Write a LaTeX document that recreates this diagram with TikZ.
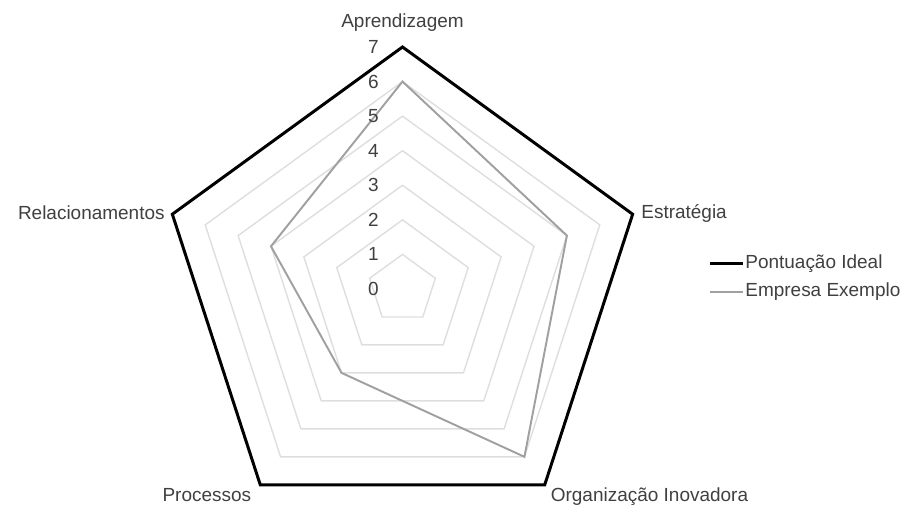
\documentclass[tikz,border=0pt]{standalone}
\usepackage{fontspec}
\setmainfont{Liberation Sans}
\usepackage{xcolor}
\usetikzlibrary{positioning,calc}

\definecolor{gridgray}{RGB}{222,222,222}
\definecolor{seriesgray}{RGB}{160,160,160}

\begin{document}
\begin{tikzpicture}[
    lbl/.style={font=\fontsize{10.8}{13}\selectfont, text=black!75, inner sep=0pt},
    tick/.style={font=\fontsize{10.8}{13}\selectfont, text=black!75, inner sep=0pt, anchor=east},
    grid/.style={gridgray, line width=0.8pt, line join=miter},
    ideal/.style={black, line width=1.7pt, line join=miter},
    empresa/.style={seriesgray, line width=1.1pt, line join=miter},
]
\useasboundingbox (-8.05,-4.36) rectangle (10.05,5.78);
\def\lev{0.6914}

% Gridlines (levels 1 to 6)
\foreach \k in {1,...,6}
  \draw[grid] (90:\k*\lev) -- (18:\k*\lev) -- (-54:\k*\lev) -- (-126:\k*\lev) -- (162:\k*\lev) -- cycle;

% Ideal score (7 on every axis)
\coordinate (ia) at (90:7*\lev);
\coordinate (ie) at (18:7*\lev);
\coordinate (io) at (-54:7*\lev);
\coordinate (ip) at (-126:7*\lev);
\coordinate (ir) at (162:7*\lev);
\draw[ideal] (ia) -- (ie) -- (io) -- (ip) -- (ir) -- cycle;

% Example company
\coordinate (ea) at (90:6*\lev);
\coordinate (ee) at (18:5*\lev);
\coordinate (eo) at (-54:6*\lev);
\coordinate (ep) at (-126:3*\lev);
\coordinate (er) at (162:4*\lev);
\draw[empresa] (ea) -- (ee) -- (eo) -- (ep) -- (er) -- cycle;

% Scale labels
\foreach \k in {0,...,7}
  \node[tick] (t\k) at (-0.47,\k*\lev) {\k};

% Axis labels
\node[lbl] (aprend) at (0,5.32) {Aprendizagem};
\node[lbl, anchor=west] (estrat) at (4.77,1.52) {Estratégia};
\node[lbl, anchor=east] (relac) at (-4.75,1.52) {Relacionamentos};
\node[lbl, anchor=east] (proc) at (-3.02,-4.12) {Processos};
\node[lbl, anchor=west] (orgin) at (2.96,-4.15) {Organização Inovadora};

% Legend
\coordinate (lg1a) at (6.15,0.514);
\coordinate (lg1b) at (6.81,0.514);
\coordinate (lg2a) at (6.15,-0.054);
\coordinate (lg2b) at (6.81,-0.054);
\draw[ideal] (lg1a) -- (lg1b);
\draw[empresa] (lg2a) -- (lg2b);
\node[lbl, anchor=west] (leg1) at (6.85,0.514) {Pontuação Ideal};
\node[lbl, anchor=west] (leg2) at (6.85,-0.054) {Empresa Exemplo};
\end{tikzpicture}
\end{document}
